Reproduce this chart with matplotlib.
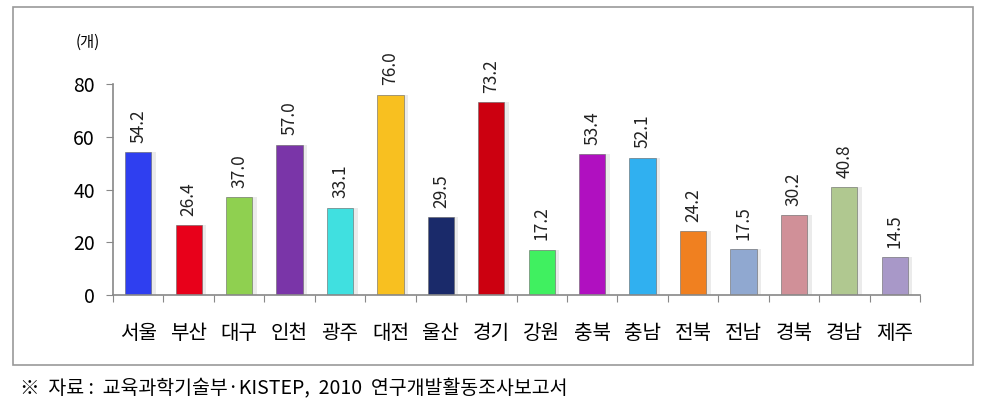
import matplotlib
matplotlib.use('Agg')
import matplotlib.pyplot as plt
from matplotlib.patches import Rectangle

plt.rcParams['font.family'] = ['Noto Sans CJK KR', 'DejaVu Sans']

regions = ['서울', '부산', '대구', '인천', '광주', '대전', '울산', '경기',
           '강원', '충북', '충남', '전북', '전남', '경북', '경남', '제주']
counts = [54.2, 26.4, 37.0, 57.0, 33.1, 76.0, 29.5, 73.2,
          17.2, 53.4, 52.1, 24.2, 17.5, 30.2, 40.8, 14.5]
bar_colors = ['#2f3ff0', '#e8001a', '#8fd050', '#7a35a8', '#40e0e0', '#f8c020',
              '#1a2a6a', '#cc0010', '#40f060', '#b010c0', '#30b0f0', '#f08020',
              '#90a8d0', '#d09098', '#b0c890', '#a898c8']
yticks = [0, 20, 40, 60, 80]

fig = plt.figure(figsize=(9.84, 4.13), dpi=100)
ax = fig.add_axes([113 / 984, 1 - 295 / 413, (920 - 113) / 984, (295 - 84) / 413])

x = list(range(len(regions)))
# soft shadow behind bars
ax.bar([i + 0.06 for i in x], counts, width=0.58, color='#d8d8d8', alpha=0.5, zorder=1)
ax.bar(x, counts, width=0.52, color=bar_colors, edgecolor='#666666', linewidth=0.4, zorder=2)

for i, v in enumerate(counts):
    ax.text(i, v + 3.5, f'{v:.1f}', rotation=90, ha='center', va='bottom',
            fontsize=12.5, color='#222222')

ax.set_xlim(-0.5, len(regions) - 0.5)
ax.set_ylim(0, 80)
ax.set_yticks(yticks)
ax.set_xticks([i - 0.5 for i in range(len(regions) + 1)], minor=False)
ax.set_xticklabels([])
ax.set_xticks(x, minor=True)
ax.set_xticklabels(regions, minor=True, fontsize=14.5)
ax.tick_params(axis='x', which='minor', length=0, pad=20)
ax.tick_params(axis='x', which='major', length=5, color='#888888', direction='out')
ax.tick_params(axis='y', length=5, color='#888888', labelsize=14, pad=8)

for s in ['top', 'right']:
    ax.spines[s].set_visible(False)
for s in ['left', 'bottom']:
    ax.spines[s].set_color('#888888')
    ax.spines[s].set_linewidth(1.2)

fig.text(88 / 984, 1 - 42 / 413, '(개)', ha='center', va='center', fontsize=11)

# outer frame
fig.patches.append(Rectangle((13 / 984, 1 - 365 / 413), (973 - 13) / 984, (365 - 7) / 413,
                             transform=fig.transFigure, fill=False, edgecolor='#999999',
                             linewidth=1.2))

fig.text(20 / 984, 1 - 389 / 413, '※  자료 :  교육과학기술부·KISTEP,  2010  연구개발활동조사보고서',
         ha='left', va='center', fontsize=14)

fig.savefig('out.png', dpi=100)
